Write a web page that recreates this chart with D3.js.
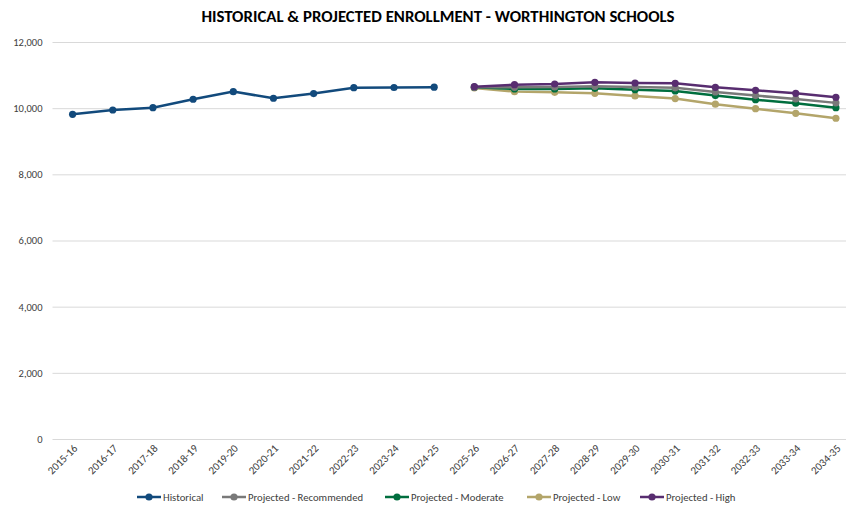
<!DOCTYPE html>
<head>
  <meta charset="utf-8">
  <script src="https://d3js.org/d3.v7.min.js"></script>
  <style>
    body { margin:0; background:#fff; }
    text { font-family: Carlito, Lato, "Open Sans", sans-serif; }
    .grid line { stroke: #d9d9d9; stroke-width: 1px; }
    .series { fill: none; stroke-width: 2.5px; }
  </style>
</head>
<body>
  <script>
    // data
    var years = ["2015-16","2016-17","2017-18","2018-19","2019-20","2020-21","2021-22","2022-23","2023-24","2024-25",
                 "2025-26","2026-27","2027-28","2028-29","2029-30","2030-31","2031-32","2032-33","2033-34","2034-35"];
    var histYears = years.slice(0, 10);
    var projYears = years.slice(10);

    var historical  = [9815, 9945, 10015, 10270, 10500, 10300, 10440, 10620, 10625, 10635];
    var recommended = [10630, 10630, 10640, 10660, 10640, 10615, 10490, 10380, 10280, 10160];
    var moderate    = [10635, 10580, 10580, 10600, 10560, 10520, 10380, 10255, 10150, 10015];
    var low         = [10610, 10500, 10480, 10450, 10370, 10290, 10120, 9985, 9845, 9695];
    var high        = [10650, 10710, 10730, 10780, 10760, 10750, 10630, 10540, 10450, 10330];

    var yTicks = [0, 2000, 4000, 6000, 8000, 10000, 12000];

    var seriesNames = ["Historical", "Projected - Recommended", "Projected - Moderate", "Projected - Low", "Projected - High"];
    var seriesColors = ["#124a7c", "#797979", "#006e3e", "#b3a56a", "#582d70"];

    var W = 846, H = 506;
    var svg = d3.select("body").append("svg")
        .attr("width", W)
        .attr("height", H);

    var x = d3.scalePoint().domain(years).range([52.5, 856]).padding(0.5);
    var y = d3.scaleLinear().domain([0, 12000]).range([439, 42]);

    // title
    svg.append("text")
        .attr("x", 438)
        .attr("y", 22)
        .attr("text-anchor", "middle")
        .style("font-size", "16.8px")
        .style("font-weight", "bold")
        .style("fill", "#000")
        .text("HISTORICAL & PROJECTED ENROLLMENT - WORTHINGTON SCHOOLS");

    // y gridlines + labels
    var yAxis = svg.append("g")
        .attr("class", "grid")
        .attr("transform", "translate(52.5,0)")
        .call(d3.axisLeft(y).tickValues(yTicks).tickSize(-(856 - 52.5)).tickPadding(10).tickFormat(d3.format(",")));
    yAxis.select(".domain").remove();
    yAxis.selectAll("text")
        .style("font-size", "10.5px")
        .style("fill", "#404040");

    // x labels
    var xAxis = svg.append("g")
        .attr("transform", "translate(0,439)")
        .call(d3.axisBottom(x).tickSize(0).tickPadding(0));
    xAxis.select(".domain").remove();
    xAxis.selectAll("text")
        .attr("text-anchor", "end")
        .attr("dy", null)
        .attr("transform", "translate(5,10) rotate(-45)")
        .style("font-size", "11px")
        .style("fill", "#404040");

    var line = d3.line()
        .x(function(d) { return x(d.year); })
        .y(function(d) { return y(d.value); });

    function pack(yrs, vals) {
      return vals.map(function(v, i) { return {year: yrs[i], value: v}; });
    }

    var allSeries = [
      pack(histYears, historical),
      pack(projYears, recommended),
      pack(projYears, moderate),
      pack(projYears, low),
      pack(projYears, high)
    ];

    // draw in order, high ends up on top
    [0, 3, 2, 1, 4].forEach(function(k) {
      var s = allSeries[k];
      svg.append("path")
          .datum(s)
          .attr("class", "series")
          .attr("stroke", seriesColors[k])
          .attr("d", line);
      svg.selectAll(null).data(s).enter()
        .append("circle")
          .attr("cx", function(d) { return x(d.year); })
          .attr("cy", function(d) { return y(d.value); })
          .attr("r", 3.6)
          .style("fill", seriesColors[k]);
    });

    // legend
    var legendX = [137, 222, 385, 527, 640];
    var legend = svg.append("g").attr("transform", "translate(0,497)");
    seriesNames.forEach(function(name, i) {
      var g = legend.append("g").attr("transform", "translate(" + legendX[i] + ",0)");
      g.append("line")
          .attr("x1", 0).attr("x2", 24)
          .attr("stroke", seriesColors[i])
          .attr("stroke-width", 2.5);
      g.append("circle")
          .attr("cx", 12).attr("r", 3.6)
          .style("fill", seriesColors[i]);
      g.append("text")
          .attr("x", 26)
          .attr("dy", "0.35em")
          .style("font-size", "10.7px")
          .style("fill", "#404040")
          .text(name);
    });
  </script>
</body>
